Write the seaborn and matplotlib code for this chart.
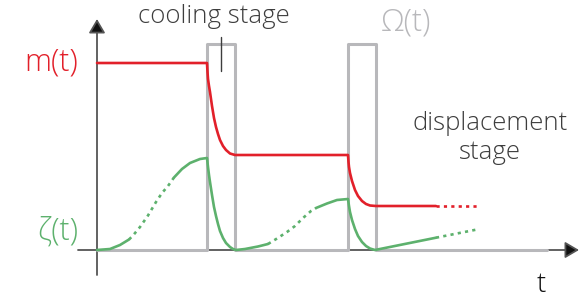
import matplotlib
matplotlib.use('Agg')
import pandas as pd
import matplotlib.pyplot as plt
import seaborn as sns

# ==================== data ====================
# time in arbitrary units, values in arbitrary units (baseline = 0)

# Omega(t): two rectangular cooling pulses on a zero baseline
omega_t = [0.0, 11.0, 11.0, 13.8, 13.8, 25.1, 25.1, 27.9, 27.9, 45.0]
omega_v = [0, 0, 2.06, 2.06, 0, 0, 2.06, 2.06, 0, 0]

# m(t): drops during each pulse, flat otherwise
m_t = [0.0, 11.0, 11.05, 11.1, 11.2, 11.3, 11.5, 11.7, 11.9, 12.1, 12.3, 12.6,
       12.9, 13.3, 13.8, 25.1, 25.15, 25.2, 25.3, 25.5, 25.8, 26.1, 26.5, 26.9,
       27.3, 27.9, 33.9, 38.1]
m_v = [1.87, 1.87, 1.78, 1.71, 1.64, 1.58, 1.44, 1.32, 1.23, 1.16, 1.10, 1.04,
       1.00, 0.965, 0.95, 0.95, 0.88, 0.83, 0.77, 0.69, 0.60, 0.54, 0.49, 0.46,
       0.445, 0.44, 0.44, 0.44]
m_dotted = [(33.9, 38.1)]

# zeta(t): grows between pulses, collapses during them
zeta_t = [0.0, 1.3, 2.3, 3.2, 3.6, 4.3, 5.1, 5.9, 6.5, 7.1, 7.7, 8.5, 9.3, 10.3, 11.0,
          11.1, 11.2, 11.3, 11.5, 11.7, 11.9, 12.1, 12.3, 12.6, 12.9, 13.3, 13.6, 13.9,
          14.8, 16.1, 17.1, 18.0, 19.0, 19.8, 20.6, 21.4, 21.9, 23.0, 24.0, 25.1,
          25.2, 25.3, 25.5, 25.8, 26.1, 26.5, 26.9, 27.3, 27.8, 33.9, 38.1]
zeta_v = [0, 0.01, 0.05, 0.105, 0.145, 0.23, 0.345, 0.48, 0.57, 0.64, 0.725, 0.81, 0.87, 0.91, 0.92,
          0.83, 0.75, 0.68, 0.55, 0.43, 0.34, 0.26, 0.19, 0.12, 0.07, 0.03, 0.01, 0.0,
          0.01, 0.035, 0.06, 0.115, 0.18, 0.24, 0.32, 0.39, 0.42, 0.465, 0.50, 0.51,
          0.44, 0.38, 0.30, 0.21, 0.14, 0.08, 0.04, 0.015, 0.0, 0.123, 0.207]
zeta_dotted = [(3.2, 7.7), (17.1, 21.9), (33.9, 38.1)]

# ==================== style ====================
RED = '#e2202a'
GREEN = '#5db16d'
GRAY = '#b8b8bb'
DARK = '#3d3d3d'
FONT = ['Open Sans', 'DejaVu Sans']

sns.set_style('white')
plt.rcParams['font.family'] = FONT
plt.rcParams['font.weight'] = 'light'

fig = plt.figure(figsize=(5.82, 3.02), dpi=100)
ax = fig.add_axes([0, 0, 1, 1])
ax.set_xlim(-9.7, 48.5)
ax.set_ylim(-0.52, 2.5)
ax.axis('off')


def draw_curve(t, v, dotted, color):
    df = pd.DataFrame({'t': t, 'v': v})
    edges = sorted({df.t.min(), df.t.max(), *[e for d in dotted for e in d]})
    for a, b in zip(edges[:-1], edges[1:]):
        seg = df[(df.t >= a) & (df.t <= b)]
        ls = (0, (1.2, 1.6)) if (a, b) in dotted else '-'
        sns.lineplot(data=seg, x='t', y='v', ax=ax, color=color, linewidth=1.9,
                     linestyle=ls, estimator=None, sort=False, zorder=4,
                     solid_capstyle='round', dash_capstyle='butt')


# axes with arrow heads
arrow = dict(arrowstyle='-|>,head_length=0.85,head_width=0.5', mutation_scale=10,
             edgecolor='#555555', facecolor='#111111', lw=1.3, shrinkA=0, shrinkB=0)
ax.annotate('', xy=(0, 2.31), xytext=(0, -0.25), arrowprops=arrow, zorder=1)
ax.annotate('', xy=(48.2, 0), xytext=(-1.9, 0), arrowprops=arrow, zorder=1)

# Omega(t) pulses
sns.lineplot(x=omega_t, y=omega_v, ax=ax, color=GRAY, linewidth=2.2,
             estimator=None, sort=False, zorder=2)

draw_curve(m_t, m_v, m_dotted, RED)
draw_curve(zeta_t, zeta_v, zeta_dotted, GREEN)

# labels
ax.text(-1.9, 1.87, 'm(t)', color=RED, fontsize=22, ha='right', va='center')
ax.text(-1.9, 0.18, 'ζ(t)', color=GREEN, fontsize=22, ha='right', va='center')
ax.text(44.4, -0.42, 't', color='#111111', fontsize=20, ha='center', va='baseline')
ax.text(30.9, 2.28, 'Ω(t)', color=GRAY, fontsize=22, ha='center', va='center')
ax.text(11.65, 2.33, 'cooling stage', color=DARK, fontsize=18.5, ha='center', va='center')
ax.plot([12.4, 12.4], [2.13, 1.79], color=DARK, lw=1.0)
ax.text(39.3, 1.12, 'displacement\nstage', color=DARK, fontsize=18.5,
        ha='center', va='center', linespacing=1.2)

plt.savefig('out.png', dpi=100)
